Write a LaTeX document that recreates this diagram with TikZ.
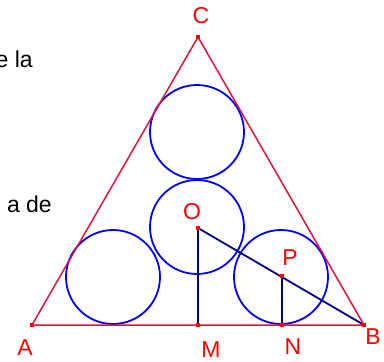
\documentclass[tikz,border=0pt]{standalone}
\usepackage{fontspec}
\setmainfont{Liberation Sans}
\usetikzlibrary{positioning}
\definecolor{sidered}{RGB}{220,20,60}
\definecolor{darkline}{RGB}{0,0,128}

\begin{document}
\begin{tikzpicture}[
  x=1pt, y=-1pt,
  font=\fontsize{23}{25}\selectfont,
  pt/.style={draw=none, fill=red, rectangle, minimum size=4pt, inner sep=0pt},
  lbl/.style={text=red, inner sep=0pt},
  side/.style={sidered, line width=1.5pt},
  ring/.style={blue, line width=1.8pt},
  seg/.style={darkline, line width=1.8pt}
]
\useasboundingbox (0,0) rectangle (384,362);

% cut-off text on the left
\node[anchor=base east, inner sep=0pt] (txtA) at (33,67)  {e la};
\node[anchor=base east, inner sep=0pt] (txtB) at (52,212) {a de};

\coordinate (A) at (32,325);
\coordinate (B) at (364,325);
\coordinate (C) at (198,37);
\coordinate (M) at (198,325);
\coordinate (N) at (282,325);
\coordinate (O) at (198,228);
\coordinate (P) at (282,276);

%% circles
\draw[ring] (197,132) circle (47);
\draw[ring] (197,227) circle (47);
\draw[ring] (113,277) circle (47);
\draw[ring] (281,277) circle (47);

%% triangle
\draw[side] (A) -- (B) -- (C) -- cycle;

%% segments
\draw[seg] (O) -- (M);
\draw[seg] (O) -- (B);
\draw[seg] (P) -- (N);

\foreach \p in {A,B,C,M,N,O,P}
  \node[pt] at (\p) {};

\node[lbl] (lA) at (25,348)  {A};
\node[lbl] (lB) at (373,337) {B};
\node[lbl] (lC) at (201,16)  {C};
\node[lbl] (lM) at (211,350) {M};
\node[lbl] (lN) at (293,347) {N};
\node[lbl] (lO) at (192,212) {O};
\node[lbl] (lP) at (290,258) {P};

\end{tikzpicture}
\end{document}
